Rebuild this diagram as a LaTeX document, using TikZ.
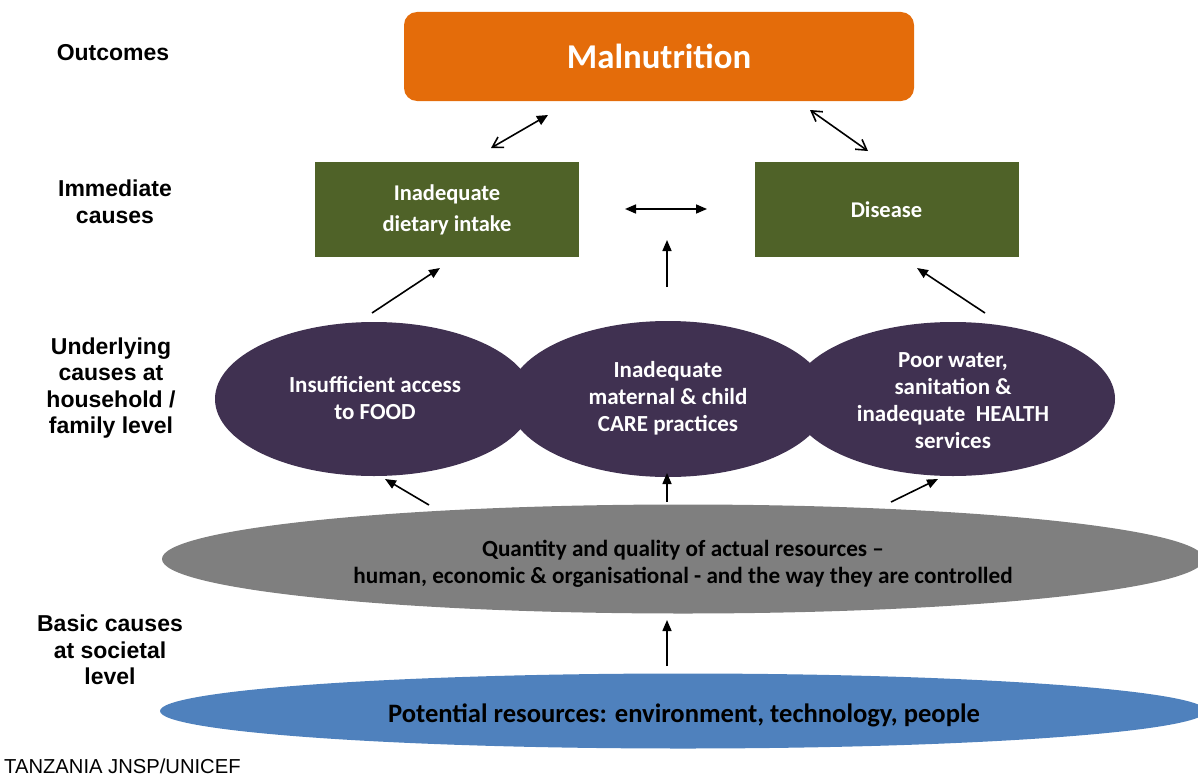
\documentclass[tikz,border=0pt]{standalone}
\usepackage{fontspec}
\setmainfont{Carlito}
\newfontfamily\arialfont{Liberation Sans}
\usetikzlibrary{arrows.meta,shapes.geometric}
\definecolor{cOrange}{HTML}{E46C0A}
\definecolor{cGreen}{HTML}{4F6228}
\definecolor{cPurple}{HTML}{403151}
\definecolor{cGray}{HTML}{7F7F7F}
\definecolor{cBlue}{HTML}{4F81BD}
\tikzset{
  lbl/.style={font=\arialfont\bfseries\fontsize{23}{26.5}\selectfont, align=center, text=black, inner sep=0pt},
  greenbox/.style={rectangle, fill=cGreen, draw=none, minimum width=264pt, minimum height=95pt, inner sep=0pt,
    text=white, align=center, font=\bfseries\fontsize{22.5}{31}\selectfont},
  purpleell/.style={ellipse, fill=cPurple, draw=none, inner sep=0pt},
  purpletxt/.style={text=white, align=center, inner sep=0pt, font=\bfseries\fontsize{23}{27}\selectfont},
  arr/.style={line width=1.6pt, draw=black, -{Triangle[length=11pt,width=9pt]}},
  darr/.style={line width=1.6pt, draw=black, {Triangle[length=11pt,width=9pt]}-{Triangle[length=11pt,width=9pt]}},
  oarr/.style={line width=1.6pt, draw=black, {Straight Barb[length=10pt,width=12pt]}-{Straight Barb[length=10pt,width=12pt]}},
  moarr/.style={line width=1.6pt, draw=black, {Straight Barb[length=10pt,width=12pt]}-{Triangle[length=11pt,width=10pt]}},
}
\begin{document}
\begin{tikzpicture}[x=1pt,y=-1pt]
\useasboundingbox (0,0) rectangle (1198,776);
\clip (0,0) rectangle (1198,776);

% side labels
\node[lbl] (lOut) at (113,53) {Outcomes};
\node[lbl] (lImm) at (115,202) {Immediate\\causes};
\node[lbl] (lUnd) at (111,388) {Underlying\\causes at\\household /\\family level};
\node[lbl] (lBas) at (110,650) {Basic causes\\at societal\\level};
\node[font=\arialfont\fontsize{20.2}{22}\selectfont, anchor=west, inner sep=0pt] (src) at (4,766) {TANZANIA JNSP/UNICEF};

% outcome
\node[rectangle, rounded corners=13pt, fill=cOrange, minimum width=510pt, minimum height=89pt, inner sep=0pt,
  text=white, font=\bfseries\fontsize{34.8}{40}\selectfont] (mal) at (659,56.5) {Malnutrition};

% immediate causes
\node[greenbox] (diet) at (447,209.5) {Inadequate\\dietary intake};
\node[greenbox] (dis) at (886.5,209.5) {Disease};

% underlying causes
\node[purpleell, minimum width=318pt, minimum height=154pt] (food) at (374,399) {};
\node[purpleell, minimum width=320pt, minimum height=156pt] (care) at (668,399) {};
\node[purpleell, minimum width=324pt, minimum height=154pt] (health) at (953,399) {};
\node[purpletxt] (foodT) at (375,398) {Insufficient access\\to FOOD};
\node[purpletxt] (careT) at (668,398) {Inadequate\\maternal \& child\\CARE practices};
\node[purpletxt] (healthT) at (953,401) {Poor water,\\sanitation \&\\inadequate\ \ HEALTH\\services};

% basic causes
\node[ellipse, fill=cGray, minimum width=1042pt, minimum height=109pt, inner sep=0pt] (actual) at (683,559) {};
\node[align=center, inner sep=0pt, font=\bfseries\fontsize{23.2}{27}\selectfont] (actualT) at (683,564)
  {Quantity and quality of actual resources --\\human, economic \& organisational - and the way they are controlled};
\node[ellipse, fill=cBlue, minimum width=1046pt, minimum height=75pt, inner sep=0pt] (pot) at (683,711) {};
\node[inner sep=0pt, font=\bfseries\fontsize{26.6}{30}\selectfont] (potT) at (684,715)
  {Potential resources: environment, technology, people};

% arrow end points
\coordinate (a1s) at (491,148); \coordinate (a1e) at (548,115);
\coordinate (a2s) at (868,151); \coordinate (a2e) at (810,110);
\coordinate (a3s) at (625,209); \coordinate (a3e) at (707,209);
\coordinate (a4s) at (667,287); \coordinate (a4e) at (667,240);
\coordinate (a5s) at (372,313); \coordinate (a5e) at (440,268);
\coordinate (a6s) at (985,313); \coordinate (a6e) at (917,268);
\coordinate (b1s) at (429,505); \coordinate (b1e) at (385,479);
\coordinate (b2s) at (667,502); \coordinate (b2e) at (667,473);
\coordinate (b3s) at (891,502); \coordinate (b3e) at (938,479);
\coordinate (c1s) at (667,666); \coordinate (c1e) at (667,620);

\draw[moarr] (a1s) -- (a1e);
\draw[oarr] (a2s) -- (a2e);
\draw[darr] (a3s) -- (a3e);
\draw[arr] (a4s) -- (a4e);
\draw[arr] (a5s) -- (a5e);
\draw[arr] (a6s) -- (a6e);
\draw[arr] (b1s) -- (b1e);
\draw[arr] (b2s) -- (b2e);
\draw[arr] (b3s) -- (b3e);
\draw[arr] (c1s) -- (c1e);
\end{tikzpicture}
\end{document}
